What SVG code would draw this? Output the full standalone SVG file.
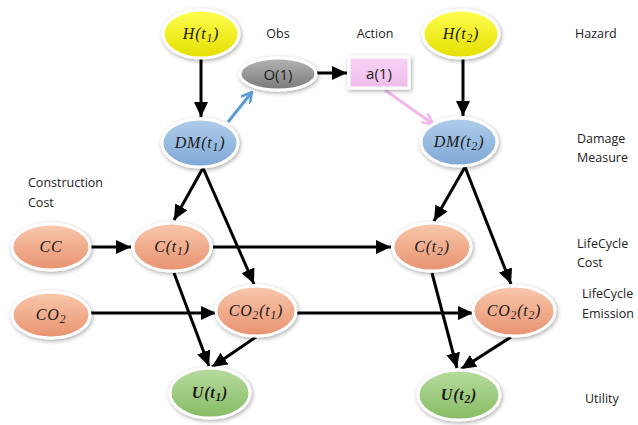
<svg xmlns="http://www.w3.org/2000/svg" width="638" height="425" viewBox="0 0 638 425">
<defs>
  <linearGradient id="gY" x1="0" y1="0" x2="0" y2="1"><stop offset="0" stop-color="#ffff50"/><stop offset="1" stop-color="#e4de00"/></linearGradient>
  <linearGradient id="gB" x1="0" y1="0" x2="0" y2="1"><stop offset="0" stop-color="#b0cdea"/><stop offset="1" stop-color="#7fa8d6"/></linearGradient>
  <linearGradient id="gO" x1="0" y1="0" x2="0" y2="1"><stop offset="0" stop-color="#f9c8ad"/><stop offset="1" stop-color="#e8926f"/></linearGradient>
  <linearGradient id="gG" x1="0" y1="0" x2="0" y2="1"><stop offset="0" stop-color="#b8dca0"/><stop offset="1" stop-color="#86bb62"/></linearGradient>
  <linearGradient id="gK" x1="0" y1="0" x2="0" y2="1"><stop offset="0" stop-color="#b4b4b4"/><stop offset="1" stop-color="#7a7a7a"/></linearGradient>
  <linearGradient id="gP" x1="0" y1="0" x2="0" y2="1"><stop offset="0" stop-color="#f8d4f6"/><stop offset="1" stop-color="#eebbea"/></linearGradient>
  <filter id="sh" x="-30%" y="-40%" width="160%" height="180%">
    <feDropShadow dx="1" dy="1.5" stdDeviation="2" flood-color="#000" flood-opacity="0.35"/>
  </filter>
  <marker id="ah" markerUnits="userSpaceOnUse" markerWidth="16" markerHeight="14" refX="15" refY="7" orient="auto">
    <path d="M0,0 L15,7 L0,14 z" fill="#000"/>
  </marker>
  <marker id="ahB" markerUnits="userSpaceOnUse" markerWidth="12" markerHeight="12" refX="11" refY="6" orient="auto">
    <path d="M0,0 L11,6 L0,12" fill="none" stroke="#5b9bd5" stroke-width="2.5"/>
  </marker>
  <marker id="ahP" markerUnits="userSpaceOnUse" markerWidth="12" markerHeight="12" refX="11" refY="6" orient="auto">
    <path d="M0,0 L11,6 L0,12" fill="none" stroke="#f3b6ef" stroke-width="2.5"/>
  </marker>
</defs>
<style>
  .n { stroke: #ffffff; stroke-width: 3; filter: url(#sh); }
  .m { font-family: "Liberation Serif", "DejaVu Serif", serif; font-style: italic; font-size: 16px; letter-spacing: 0.8px; fill: #1a1a1a; text-anchor: middle; }
  .b { font-weight: bold; }
  .s { font-size: 11.5px; }
  .lbl { font-family: "Open Sans", "Liberation Sans", sans-serif; font-size: 12.5px; fill: #222; }
  .c { stroke: #000; stroke-width: 3; fill: none; marker-end: url(#ah); }
</style>
<rect width="638" height="425" fill="#ffffff"/>

<g id="connectors">
  <line class="c" x1="201" y1="58" x2="201" y2="117"/>
  <line class="c" x1="463" y1="58" x2="463" y2="116"/>
  <line x1="228" y1="122" x2="252" y2="92" stroke="#5b9bd5" stroke-width="3" marker-end="url(#ahB)"/>
  <line class="c" x1="317" y1="73" x2="347" y2="73"/>
  <line x1="385" y1="90" x2="433" y2="124" stroke="#f3b6ef" stroke-width="3" marker-end="url(#ahP)"/>
  <line class="c" x1="203" y1="168" x2="174" y2="220"/>
  <line class="c" x1="203" y1="168" x2="254" y2="284"/>
  <line class="c" x1="465" y1="167" x2="434" y2="221"/>
  <line class="c" x1="465" y1="167" x2="511" y2="284"/>
  <line class="c" x1="91" y1="247" x2="131" y2="247"/>
  <line class="c" x1="213" y1="247" x2="391" y2="247"/>
  <line class="c" x1="91" y1="313" x2="216" y2="313"/>
  <line class="c" x1="296" y1="313" x2="473" y2="313"/>
  <line class="c" x1="174" y1="273" x2="209" y2="366"/>
  <line class="c" x1="256" y1="337" x2="212" y2="367"/>
  <line class="c" x1="432" y1="273" x2="457" y2="368"/>
  <line class="c" x1="511" y1="337" x2="461" y2="369"/>
</g>

<g id="H1"><ellipse class="n" cx="201" cy="34" rx="38" ry="24" fill="url(#gY)"/><text class="m" x="201" y="39">H(t<tspan class="s" dy="3">1</tspan><tspan dy="-3">)</tspan></text></g>
<g id="H2"><ellipse class="n" cx="461" cy="34" rx="38" ry="24" fill="url(#gY)"/><text class="m" x="461" y="39">H(t<tspan class="s" dy="3">2</tspan><tspan dy="-3">)</tspan></text></g>
<g id="DM1"><ellipse class="n" cx="200" cy="143" rx="38" ry="24" fill="url(#gB)"/><text class="m" x="200" y="148">DM(t<tspan class="s" dy="3">1</tspan><tspan dy="-3">)</tspan></text></g>
<g id="DM2"><ellipse class="n" cx="459" cy="142" rx="38" ry="24" fill="url(#gB)"/><text class="m" x="459" y="147">DM(t<tspan class="s" dy="3">2</tspan><tspan dy="-3">)</tspan></text></g>
<g id="O1"><ellipse class="n" cx="278" cy="74" rx="38" ry="16" fill="url(#gK)"/><text x="278" y="80" text-anchor="middle" font-family="Open Sans, Liberation Sans, sans-serif" font-size="15" fill="#222">O(1)</text></g>
<g id="A1"><rect class="n" x="349" y="57" width="60" height="31" fill="url(#gP)" stroke="#f7def5"/><text x="379" y="79" text-anchor="middle" font-family="Open Sans, Liberation Sans, sans-serif" font-size="15" fill="#222">a(1)</text></g>
<g id="CC"><ellipse class="n" cx="51" cy="247" rx="39" ry="23" fill="url(#gO)"/><text class="m" x="51" y="252">CC</text></g>
<g id="CO2"><ellipse class="n" cx="51" cy="315" rx="39" ry="23" fill="url(#gO)"/><text class="m" x="51" y="320">CO<tspan class="s" dy="3">2</tspan></text></g>
<g id="C1"><ellipse class="n" cx="172" cy="247" rx="39" ry="24" fill="url(#gO)"/><text class="m" x="172" y="252">C(t<tspan class="s" dy="3">1</tspan><tspan dy="-3">)</tspan></text></g>
<g id="C2"><ellipse class="n" cx="432" cy="247" rx="39" ry="24" fill="url(#gO)"/><text class="m" x="432" y="252">C(t<tspan class="s" dy="3">2</tspan><tspan dy="-3">)</tspan></text></g>
<g id="CO2t1"><ellipse class="n" cx="256" cy="311" rx="40" ry="25" fill="url(#gO)"/><text class="m" x="256" y="316">CO<tspan class="s" dy="3">2</tspan><tspan dy="-3">(t</tspan><tspan class="s" dy="3">1</tspan><tspan dy="-3">)</tspan></text></g>
<g id="CO2t2"><ellipse class="n" cx="514" cy="311" rx="41" ry="25" fill="url(#gO)"/><text class="m" x="514" y="316">CO<tspan class="s" dy="3">2</tspan><tspan dy="-3">(t</tspan><tspan class="s" dy="3">2</tspan><tspan dy="-3">)</tspan></text></g>
<g id="U1"><ellipse class="n" cx="210" cy="393" rx="40" ry="25" fill="url(#gG)"/><text class="m b" x="210" y="398">U(t<tspan class="s" dy="3">1</tspan><tspan dy="-3">)</tspan></text></g>
<g id="U2"><ellipse class="n" cx="459" cy="395" rx="41" ry="25" fill="url(#gG)"/><text class="m b" x="459" y="400">U(t<tspan class="s" dy="3">2</tspan><tspan dy="-3">)</tspan></text></g>

<g id="labels">
  <text class="lbl" x="278" y="38" text-anchor="middle">Obs</text>
  <text class="lbl" x="375" y="38" text-anchor="middle">Action</text>
  <text class="lbl" x="28" y="187">Construction</text>
  <text class="lbl" x="28" y="207">Cost</text>
  <text class="lbl" x="575" y="38">Hazard</text>
  <text class="lbl" x="577" y="143">Damage</text>
  <text class="lbl" x="577" y="162">Measure</text>
  <text class="lbl" x="577" y="248">LifeCycle</text>
  <text class="lbl" x="577" y="267">Cost</text>
  <text class="lbl" x="582" y="298">LifeCycle</text>
  <text class="lbl" x="582" y="318">Emission</text>
  <text class="lbl" x="585" y="403">Utility</text>
</g>
</svg>
